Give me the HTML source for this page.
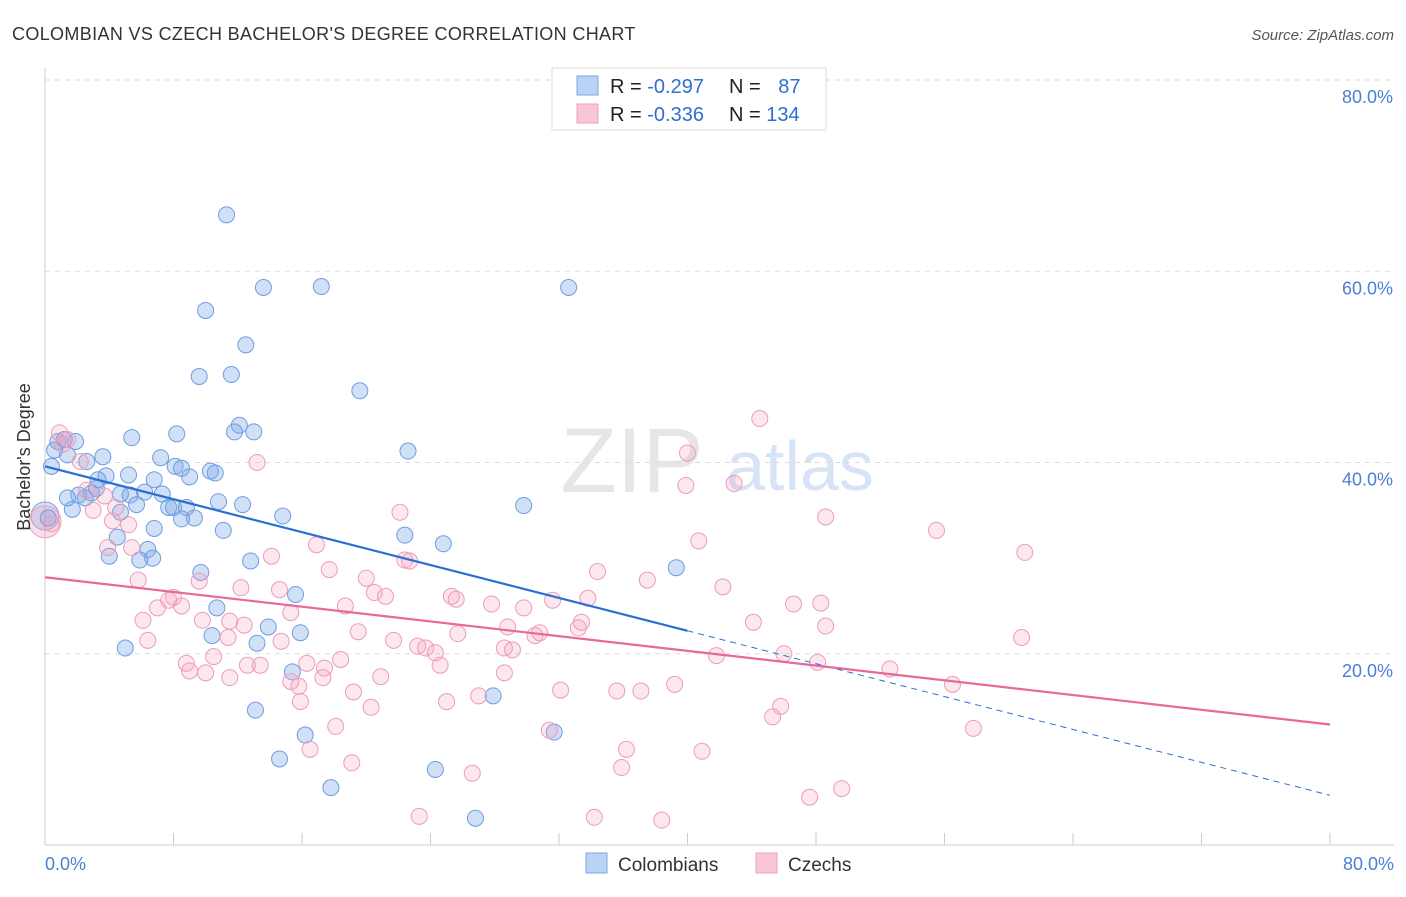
<!DOCTYPE html>
<html><head><meta charset="utf-8">
<style>
body{margin:0;background:#fff;font-family:"Liberation Sans",sans-serif;}
svg text{font-family:"Liberation Sans",sans-serif;}
</style></head>
<body>
<svg id="chart" width="1406" height="892" xmlns="http://www.w3.org/2000/svg">
<text x="12" y="40" font-size="18" fill="#333" letter-spacing="0.35">COLOMBIAN VS CZECH BACHELOR'S DEGREE CORRELATION CHART</text>
<text x="1394" y="40" font-size="15" fill="#555" font-style="italic" text-anchor="end">Source: ZipAtlas.com</text>
<g>
<text x="632" y="492" font-size="92" fill="#e6e6e6" font-family="Liberation Serif" text-anchor="middle">ZIP</text>
<text x="800" y="490" font-size="70" fill="#d6e4f5" text-anchor="middle">atlas</text>
</g>
<g id="grid"></g>
<line x1="45" y1="68" x2="45" y2="845" stroke="#ccc"/>
<line x1="45" y1="845" x2="1394" y2="845" stroke="#ccc"/>
<g id="xticks"></g>
<g id="pts"></g>
<g id="lines"></g>
<text transform="translate(30,457) rotate(-90)" font-size="18" fill="#333" text-anchor="middle">Bachelor's Degree</text>
<text x="45" y="870" font-size="18" fill="#4a7fd6">0.0%</text>
<text x="1394" y="870" font-size="18" fill="#4a7fd6" text-anchor="end">80.0%</text>
<g>
<rect x="552" y="68" width="274" height="62" fill="#fff" stroke="#ddd"/>
<rect x="577" y="76" width="21" height="19" fill="#b9d3f5" stroke="#7aa6e6"/>
<rect x="577" y="104" width="21" height="19" fill="#f9c6d6" stroke="#eea0ba"/>
<text x="610" y="93" font-size="20" fill="#222">R = <tspan fill="#2f6fd0">-0.297</tspan></text>
<text x="729" y="93" font-size="20" fill="#222">N = <tspan fill="#2f6fd0" dx="12">87</tspan></text>
<text x="610" y="121" font-size="20" fill="#222">R = <tspan fill="#2f6fd0">-0.336</tspan></text>
<text x="729" y="121" font-size="20" fill="#222">N = <tspan fill="#2f6fd0">134</tspan></text>
</g>
<g>
<rect x="586" y="853" width="21" height="20" fill="#b9d3f5" stroke="#7aa6e6"/>
<text x="618" y="871" font-size="19" fill="#333">Colombians</text>
<rect x="756" y="853" width="21" height="20" fill="#f9c6d6" stroke="#eea0ba"/>
<text x="788" y="871" font-size="19" fill="#333">Czechs</text>
</g>
</svg>
<script>
const yTicks=[20,40,60,80];
const yTickLabels=["20.0%","40.0%","60.0%","80.0%"];
const xTicks=[0,8,16,24,32,40,48,56,64,72,80];
const blueX=[11.3,13.6,17.2,32.6,10.0,12.5,9.6,11.6,19.6,12.1,13.0,11.8,8.2,5.4,22.6,0.8,1.2,1.9,0.6,1.4,3.6,2.6,7.2,8.1,8.5,10.3,10.6,9.0,3.8,5.2,3.3,6.8,0.4,2.1,2.9,3.2,4.7,5.3,6.2,7.3,10.8,12.3,7.7,8.0,8.8,9.3,8.5,5.7,4.7,29.8,14.8,6.8,11.1,4.5,22.4,24.8,6.4,4.0,6.7,5.9,12.8,9.7,39.3,15.6,10.7,10.4,13.9,15.9,13.2,5.0,15.4,27.9,13.1,16.2,31.7,14.6,24.3,17.8,26.8,1.7,1.4,2.5,0.2];
const blueY=[65.9,58.3,58.4,58.3,55.9,52.3,49.0,49.2,47.5,43.9,43.2,43.2,43.0,42.6,41.2,42.2,42.4,42.2,41.3,40.8,40.6,40.1,40.5,39.6,39.4,39.1,38.9,38.5,38.6,38.7,38.2,38.2,39.6,36.6,36.8,37.3,36.7,36.6,36.9,36.7,35.9,35.6,35.3,35.3,35.3,34.2,34.1,35.6,34.8,35.5,34.4,33.1,32.9,32.2,32.4,31.5,30.9,30.2,30.0,29.8,29.7,28.5,29.0,26.2,24.8,21.9,22.8,22.2,21.1,20.6,18.1,15.6,14.1,11.5,11.8,9.0,7.9,6.0,2.8,35.1,36.3,36.3,34.2];
const pinkX=[44.5,40.0,1.4,1.1,2.2,13.2,39.9,42.9,2.6,3.7,4.4,3.0,22.1,48.6,55.5,4.2,5.2,40.7,61.0,3.9,5.4,16.9,14.1,22.4,22.7,17.7,34.4,5.8,20.0,37.5,9.6,12.2,14.6,20.5,21.2,42.2,8.0,25.3,25.6,33.8,7.7,8.5,7.0,27.8,29.8,18.7,31.6,46.6,48.3,15.3,6.1,9.8,11.5,12.4,44.1,33.4,33.2,48.6,28.8,30.8,30.5,25.7,19.5,21.7,11.4,6.4,14.7,60.8,23.2,23.7,24.3,28.6,29.1,41.8,46.0,10.5,8.8,16.3,18.4,9.0,17.4,24.6,13.4,12.6,28.6,10.0,11.5,20.9,48.1,52.6,15.3,17.3,56.5,32.1,35.6,37.1,39.2,19.2,15.8,15.9,25.0,27.0,20.3,45.8,45.3,18.1,31.4,57.8,16.5,36.2,40.9,35.9,19.1,26.6,49.6,47.6,23.3,34.2,38.4,0.4,0.9];
const pinkY=[44.6,41.0,42.4,41.9,40.1,40.0,37.6,37.8,37.1,36.5,35.3,35.0,34.8,34.3,32.9,33.9,33.5,31.8,30.6,31.1,31.1,31.4,30.2,29.8,29.7,28.8,28.6,27.7,27.9,27.7,27.6,26.9,26.7,26.4,26.0,27.0,25.9,26.0,25.7,25.8,25.6,25.0,24.8,25.2,24.8,25.0,25.6,25.2,25.3,24.3,23.5,23.5,23.4,23.0,23.3,23.3,22.7,22.9,22.8,22.2,21.9,22.1,22.3,21.4,21.7,21.4,21.3,21.7,20.8,20.6,20.1,20.6,20.4,19.8,20.0,19.7,19.0,19.0,19.4,18.2,18.5,18.8,18.8,18.8,18.0,18.0,17.5,17.6,19.1,18.4,17.1,17.5,16.8,16.2,16.1,16.1,16.8,16.0,16.6,15.0,15.0,15.6,14.4,14.5,13.4,12.4,12.0,12.2,10.0,10.0,9.8,8.1,8.6,7.5,5.9,5.0,3.0,2.9,2.6,33.6,43.1];
const blueTrend=[39.6,5.2];
const pinkTrend=[28.0,12.6];
const blueSolidEnd=40;

const NS="http://www.w3.org/2000/svg";
const X0=45,X1=1330,Y0=845,Y1=80;
function sx(v){return X0+(X1-X0)*v/80;}
function sy(v){return Y0-(Y0-Y1)*v/80;}
function mk(tag,attrs,parent){const e=document.createElementNS(NS,tag);for(const k in attrs)e.setAttribute(k,attrs[k]);parent.appendChild(e);return e;}
const grid=document.getElementById('grid');
yTicks.forEach((t,i)=>{
 const l=mk('line',{x1:45,x2:1394,y1:sy(t),y2:sy(t),stroke:'#ddd','stroke-dasharray':'5,5'},grid);
 
 
 const tx=mk('text',{x:1393,y:sy(t)+23,'font-size':18,fill:'#4a7fd6','text-anchor':'end'},grid);
 tx.textContent=yTickLabels[i];
 
 
});
const xt=document.getElementById('xticks');
xTicks.forEach(t=>{
 const l=mk('line',{x1:sx(t),x2:sx(t),y1:833,y2:845,stroke:'#ccc'},xt);
 
 
});
const pts=document.getElementById('pts');
function big(x,y,r,fill,stroke,name){const c=mk('circle',{cx:sx(x),cy:sy(y),r:r,fill:fill,stroke:stroke},pts);
 
 }
big(0,34.4,14,'rgba(120,165,230,0.3)','#7aa6e6','point-colombian-large');
big(0,33.8,16,'rgba(240,150,180,0.3)','#eea0ba','point-czech-large');
blueX.forEach((x,i)=>{
 const c=mk('circle',{cx:sx(x),cy:sy(blueY[i]),r:8,fill:'rgba(120,165,230,0.35)',stroke:'#6f9de0','stroke-width':1},pts);
 
 
});
pinkX.forEach((x,i)=>{
 const c=mk('circle',{cx:sx(x),cy:sy(pinkY[i]),r:8,fill:'rgba(245,160,190,0.25)',stroke:'#ee9bb8','stroke-width':1},pts);
 
 
});
const ln=document.getElementById('lines');
function ty(tr,x){return tr[0]+(tr[1]-tr[0])*x/80;}
let a=mk('line',{x1:sx(0),y1:sy(ty(blueTrend,0)),x2:sx(blueSolidEnd),y2:sy(ty(blueTrend,blueSolidEnd)),stroke:'#2a6fd6','stroke-width':2.2},ln);


let b=mk('line',{x1:sx(blueSolidEnd),y1:sy(ty(blueTrend,blueSolidEnd)),x2:sx(80),y2:sy(ty(blueTrend,80)),stroke:'#2a6fd6','stroke-width':1,'stroke-dasharray':'6,5'},ln);


let p=mk('line',{x1:sx(0),y1:sy(ty(pinkTrend,0)),x2:sx(80),y2:sy(ty(pinkTrend,80)),stroke:'#e8689a','stroke-width':2.2},ln);


</script>
</body></html>
